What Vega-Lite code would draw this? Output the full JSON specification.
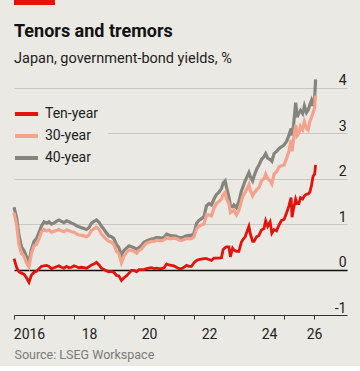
{
  "$schema": "https://vega.github.io/schema/vega-lite/v6.json",
  "background": "#ebe9e3",
  "padding": {"left": 4, "right": 13, "top": 0, "bottom": 5},
  "config": {
    "view": {"stroke": null},
    "font": "Roboto",
    "concat": {"spacing": 18}
  },
  "vconcat": [
    {
      "width": 41,
      "height": 5,
      "data": {"values": [{"bar": 1}]},
      "mark": {"type": "rect", "color": "#e3120b"},
      "encoding": {}
    },
    {
      "width": 333,
      "height": 241,
      "title": {
        "text": "Tenors and tremors",
        "subtitle": "Japan, government-bond yields, %",
        "anchor": "start",
        "frame": "group",
        "font": "Roboto",
        "fontSize": 18,
        "fontWeight": "bold",
        "color": "#121212",
        "subtitleFont": "Roboto",
        "subtitleFontSize": 14.5,
        "subtitleColor": "#1e1e1e",
        "subtitlePadding": 11,
        "offset": 7.5
      },
      "data": {
        "values": [
          {"date": "2016-01-01", "ten": 0.24, "thirty": 1.25, "forty": 1.37},
          {"date": "2016-02-01", "ten": 0.05, "thirty": 1.0, "forty": 1.15},
          {"date": "2016-03-01", "ten": -0.05, "thirty": 0.55, "forty": 0.75},
          {"date": "2016-04-01", "ten": -0.08, "thirty": 0.35, "forty": 0.5},
          {"date": "2016-05-01", "ten": -0.1, "thirty": 0.3, "forty": 0.42},
          {"date": "2016-06-01", "ten": -0.18, "thirty": 0.15, "forty": 0.28},
          {"date": "2016-07-01", "ten": -0.28, "thirty": 0.06, "forty": 0.18},
          {"date": "2016-08-01", "ten": -0.12, "thirty": 0.36, "forty": 0.45},
          {"date": "2016-09-01", "ten": -0.06, "thirty": 0.52, "forty": 0.62},
          {"date": "2016-10-01", "ten": -0.04, "thirty": 0.55, "forty": 0.68},
          {"date": "2016-11-01", "ten": 0.02, "thirty": 0.68, "forty": 0.82},
          {"date": "2016-12-01", "ten": 0.07, "thirty": 0.83, "forty": 0.96},
          {"date": "2017-01-01", "ten": 0.08, "thirty": 0.88, "forty": 1.05},
          {"date": "2017-02-01", "ten": 0.09, "thirty": 0.85, "forty": 1.02},
          {"date": "2017-03-01", "ten": 0.07, "thirty": 0.87, "forty": 1.05},
          {"date": "2017-04-01", "ten": 0.02, "thirty": 0.82, "forty": 1.0},
          {"date": "2017-05-01", "ten": 0.04, "thirty": 0.84, "forty": 1.02},
          {"date": "2017-06-01", "ten": 0.06, "thirty": 0.86, "forty": 1.06},
          {"date": "2017-07-01", "ten": 0.08, "thirty": 0.88, "forty": 1.09},
          {"date": "2017-08-01", "ten": 0.05, "thirty": 0.85, "forty": 1.06},
          {"date": "2017-09-01", "ten": 0.03, "thirty": 0.83, "forty": 1.03},
          {"date": "2017-10-01", "ten": 0.07, "thirty": 0.87, "forty": 1.07},
          {"date": "2017-11-01", "ten": 0.04, "thirty": 0.86, "forty": 1.05},
          {"date": "2017-12-01", "ten": 0.05, "thirty": 0.83, "forty": 1.02},
          {"date": "2018-01-01", "ten": 0.08, "thirty": 0.82, "forty": 1.0},
          {"date": "2018-02-01", "ten": 0.06, "thirty": 0.78, "forty": 0.96},
          {"date": "2018-03-01", "ten": 0.04, "thirty": 0.76, "forty": 0.94},
          {"date": "2018-04-01", "ten": 0.05, "thirty": 0.75, "forty": 0.92},
          {"date": "2018-05-01", "ten": 0.04, "thirty": 0.74, "forty": 0.9},
          {"date": "2018-06-01", "ten": 0.03, "thirty": 0.72, "forty": 0.88},
          {"date": "2018-07-01", "ten": 0.06, "thirty": 0.76, "forty": 0.92},
          {"date": "2018-08-01", "ten": 0.1, "thirty": 0.86, "forty": 1.02},
          {"date": "2018-09-01", "ten": 0.12, "thirty": 0.9, "forty": 1.06},
          {"date": "2018-10-01", "ten": 0.16, "thirty": 0.93, "forty": 1.09},
          {"date": "2018-11-01", "ten": 0.1, "thirty": 0.88, "forty": 1.04},
          {"date": "2018-12-01", "ten": 0.03, "thirty": 0.78, "forty": 0.95},
          {"date": "2019-01-01", "ten": 0.0, "thirty": 0.72, "forty": 0.88},
          {"date": "2019-02-01", "ten": -0.03, "thirty": 0.66, "forty": 0.8},
          {"date": "2019-03-01", "ten": -0.05, "thirty": 0.62, "forty": 0.74},
          {"date": "2019-04-01", "ten": -0.04, "thirty": 0.6, "forty": 0.72},
          {"date": "2019-05-01", "ten": -0.06, "thirty": 0.55, "forty": 0.68},
          {"date": "2019-06-01", "ten": -0.13, "thirty": 0.4, "forty": 0.55},
          {"date": "2019-07-01", "ten": -0.14, "thirty": 0.35, "forty": 0.48},
          {"date": "2019-08-01", "ten": -0.24, "thirty": 0.15, "forty": 0.32},
          {"date": "2019-09-01", "ten": -0.18, "thirty": 0.3, "forty": 0.42},
          {"date": "2019-10-01", "ten": -0.14, "thirty": 0.38, "forty": 0.47},
          {"date": "2019-11-01", "ten": -0.08, "thirty": 0.43, "forty": 0.52},
          {"date": "2019-12-01", "ten": -0.02, "thirty": 0.42, "forty": 0.5},
          {"date": "2020-01-01", "ten": -0.02, "thirty": 0.4, "forty": 0.48},
          {"date": "2020-02-01", "ten": -0.05, "thirty": 0.36, "forty": 0.45},
          {"date": "2020-03-01", "ten": 0.0, "thirty": 0.42, "forty": 0.48},
          {"date": "2020-04-01", "ten": 0.0, "thirty": 0.45, "forty": 0.53},
          {"date": "2020-05-01", "ten": 0.0, "thirty": 0.52, "forty": 0.6},
          {"date": "2020-06-01", "ten": 0.02, "thirty": 0.58, "forty": 0.63},
          {"date": "2020-07-01", "ten": 0.03, "thirty": 0.6, "forty": 0.65},
          {"date": "2020-08-01", "ten": 0.04, "thirty": 0.62, "forty": 0.67},
          {"date": "2020-09-01", "ten": 0.02, "thirty": 0.62, "forty": 0.68},
          {"date": "2020-10-01", "ten": 0.03, "thirty": 0.64, "forty": 0.7},
          {"date": "2020-11-01", "ten": 0.02, "thirty": 0.64, "forty": 0.7},
          {"date": "2020-12-01", "ten": 0.02, "thirty": 0.63, "forty": 0.69},
          {"date": "2021-01-01", "ten": 0.04, "thirty": 0.65, "forty": 0.71},
          {"date": "2021-02-01", "ten": 0.12, "thirty": 0.7, "forty": 0.78},
          {"date": "2021-03-01", "ten": 0.1, "thirty": 0.68, "forty": 0.76},
          {"date": "2021-04-01", "ten": 0.09, "thirty": 0.68, "forty": 0.74},
          {"date": "2021-05-01", "ten": 0.08, "thirty": 0.69, "forty": 0.74},
          {"date": "2021-06-01", "ten": 0.05, "thirty": 0.68, "forty": 0.73},
          {"date": "2021-07-01", "ten": 0.02, "thirty": 0.65, "forty": 0.7},
          {"date": "2021-08-01", "ten": 0.02, "thirty": 0.64, "forty": 0.7},
          {"date": "2021-09-01", "ten": 0.05, "thirty": 0.66, "forty": 0.72},
          {"date": "2021-10-01", "ten": 0.09, "thirty": 0.68, "forty": 0.74},
          {"date": "2021-11-01", "ten": 0.07, "thirty": 0.68, "forty": 0.75},
          {"date": "2021-12-01", "ten": 0.07, "thirty": 0.68, "forty": 0.75},
          {"date": "2022-01-01", "ten": 0.15, "thirty": 0.72, "forty": 0.8},
          {"date": "2022-02-01", "ten": 0.2, "thirty": 0.9, "forty": 1.02},
          {"date": "2022-03-01", "ten": 0.22, "thirty": 0.95, "forty": 1.08},
          {"date": "2022-04-01", "ten": 0.23, "thirty": 0.98, "forty": 1.12},
          {"date": "2022-05-01", "ten": 0.24, "thirty": 1.0, "forty": 1.16},
          {"date": "2022-06-01", "ten": 0.24, "thirty": 1.2, "forty": 1.4},
          {"date": "2022-07-01", "ten": 0.22, "thirty": 1.2, "forty": 1.45},
          {"date": "2022-08-01", "ten": 0.2, "thirty": 1.18, "forty": 1.42},
          {"date": "2022-09-01", "ten": 0.25, "thirty": 1.35, "forty": 1.55},
          {"date": "2022-10-01", "ten": 0.25, "thirty": 1.45, "forty": 1.65},
          {"date": "2022-11-01", "ten": 0.25, "thirty": 1.5, "forty": 1.7},
          {"date": "2022-12-01", "ten": 0.26, "thirty": 1.55, "forty": 1.78},
          {"date": "2022-12-21", "ten": 0.44, "thirty": 1.65, "forty": 1.9},
          {"date": "2023-01-15", "ten": 0.48, "thirty": 1.7, "forty": 1.95},
          {"date": "2023-02-01", "ten": 0.5, "thirty": 1.55, "forty": 1.8},
          {"date": "2023-03-01", "ten": 0.5, "thirty": 1.45, "forty": 1.6},
          {"date": "2023-03-20", "ten": 0.28, "thirty": 1.25, "forty": 1.4},
          {"date": "2023-04-15", "ten": 0.47, "thirty": 1.28, "forty": 1.38},
          {"date": "2023-05-01", "ten": 0.43, "thirty": 1.3, "forty": 1.42},
          {"date": "2023-06-01", "ten": 0.4, "thirty": 1.2, "forty": 1.36},
          {"date": "2023-07-01", "ten": 0.4, "thirty": 1.3, "forty": 1.5},
          {"date": "2023-07-31", "ten": 0.6, "thirty": 1.5, "forty": 1.72},
          {"date": "2023-08-15", "ten": 0.65, "thirty": 1.6, "forty": 1.8},
          {"date": "2023-09-15", "ten": 0.72, "thirty": 1.7, "forty": 1.95},
          {"date": "2023-10-31", "ten": 0.95, "thirty": 1.87, "forty": 2.13},
          {"date": "2023-11-15", "ten": 0.8, "thirty": 1.75, "forty": 2.05},
          {"date": "2023-12-15", "ten": 0.62, "thirty": 1.62, "forty": 1.95},
          {"date": "2024-01-01", "ten": 0.62, "thirty": 1.68, "forty": 2.05},
          {"date": "2024-02-01", "ten": 0.72, "thirty": 1.75, "forty": 2.2},
          {"date": "2024-03-01", "ten": 0.75, "thirty": 1.8, "forty": 2.3},
          {"date": "2024-04-01", "ten": 0.87, "thirty": 1.95, "forty": 2.42},
          {"date": "2024-05-01", "ten": 0.9, "thirty": 2.0, "forty": 2.48},
          {"date": "2024-05-22", "ten": 1.07, "thirty": 2.1, "forty": 2.55},
          {"date": "2024-06-15", "ten": 0.95, "thirty": 2.0, "forty": 2.45},
          {"date": "2024-07-15", "ten": 1.05, "thirty": 1.95, "forty": 2.42},
          {"date": "2024-08-05", "ten": 0.8, "thirty": 1.88, "forty": 2.38},
          {"date": "2024-09-01", "ten": 0.88, "thirty": 2.1, "forty": 2.55},
          {"date": "2024-10-01", "ten": 0.85, "thirty": 2.15, "forty": 2.6},
          {"date": "2024-11-01", "ten": 0.98, "thirty": 2.26, "forty": 2.66},
          {"date": "2024-12-01", "ten": 1.08, "thirty": 2.28, "forty": 2.7},
          {"date": "2025-01-01", "ten": 1.1, "thirty": 2.3, "forty": 2.74},
          {"date": "2025-02-01", "ten": 1.25, "thirty": 2.45, "forty": 2.82},
          {"date": "2025-03-01", "ten": 1.4, "thirty": 2.6, "forty": 2.95},
          {"date": "2025-03-27", "ten": 1.58, "thirty": 2.85, "forty": 3.1},
          {"date": "2025-04-08", "ten": 1.15, "thirty": 2.6, "forty": 2.95},
          {"date": "2025-04-25", "ten": 1.32, "thirty": 2.85, "forty": 3.15},
          {"date": "2025-05-22", "ten": 1.55, "thirty": 3.18, "forty": 3.67},
          {"date": "2025-06-10", "ten": 1.45, "thirty": 2.95, "forty": 3.35},
          {"date": "2025-07-01", "ten": 1.45, "thirty": 3.0, "forty": 3.45},
          {"date": "2025-07-20", "ten": 1.58, "thirty": 3.15, "forty": 3.5},
          {"date": "2025-08-15", "ten": 1.55, "thirty": 3.08, "forty": 3.43},
          {"date": "2025-09-05", "ten": 1.62, "thirty": 3.25, "forty": 3.6},
          {"date": "2025-10-01", "ten": 1.66, "thirty": 3.1, "forty": 3.45},
          {"date": "2025-10-20", "ten": 1.66, "thirty": 3.07, "forty": 3.5},
          {"date": "2025-11-10", "ten": 1.7, "thirty": 3.25, "forty": 3.62},
          {"date": "2025-12-01", "ten": 1.85, "thirty": 3.35, "forty": 3.72},
          {"date": "2025-12-20", "ten": 2.05, "thirty": 3.45, "forty": 3.6},
          {"date": "2026-01-08", "ten": 2.1, "thirty": 3.55, "forty": 3.78},
          {"date": "2026-01-20", "ten": 2.3, "thirty": 3.83, "forty": 4.18}
        ]
      },
      "encoding": {
        "x": {
          "field": "date",
          "type": "temporal",
          "scale": {
            "type": "utc",
            "domain": [
              {"year": 2016, "month": 1, "date": 1, "utc": true},
              {"year": 2027, "month": 2, "date": 6, "utc": true}
            ]
          },
          "axis": {
            "title": "Source: LSEG Workspace",
            "titleAnchor": "start",
            "titleAlign": "left",
            "titleFont": "Roboto",
            "titleFontWeight": "normal",
            "titleFontSize": 12.5,
            "titleColor": "#7a7a7a",
            "titlePadding": 7,
            "values": [
              {"year": 2016, "month": 1, "date": 1, "utc": true},
              {"year": 2017, "month": 1, "date": 1, "utc": true},
              {"year": 2018, "month": 1, "date": 1, "utc": true},
              {"year": 2019, "month": 1, "date": 1, "utc": true},
              {"year": 2020, "month": 1, "date": 1, "utc": true},
              {"year": 2021, "month": 1, "date": 1, "utc": true},
              {"year": 2022, "month": 1, "date": 1, "utc": true},
              {"year": 2023, "month": 1, "date": 1, "utc": true},
              {"year": 2024, "month": 1, "date": 1, "utc": true},
              {"year": 2025, "month": 1, "date": 1, "utc": true},
              {"year": 2026, "month": 1, "date": 1, "utc": true}
            ],
            "grid": false,
            "domainColor": "#333333",
            "domainWidth": 1,
            "tickColor": "#333333",
            "tickSize": 4,
            "tickWidth": 1,
            "labelExpr": "utcyear(datum.value) == 2016 ? '2016' : (utcyear(datum.value) % 2 == 0 ? utcFormat(datum.value, '%y') : '')",
            "labelOffset": {"condition": {"test": "utcyear(datum.value) == 2026", "value": 0}, "value": 15},
            "labelFont": "Roboto",
            "labelFontSize": 14,
            "labelColor": "#222222",
            "labelPadding": 8,
            "labelFlush": false,
            "labelOverlap": false
          }
        }
      },
      "layer": [
        {
          "mark": {"type": "line", "strokeWidth": 3.2},
          "encoding": {
            "y": {
              "field": "forty",
              "type": "quantitative",
              "scale": {"domain": [-1, 4.3], "nice": false, "zero": false},
              "axis": {
                "orient": "right",
                "title": null,
                "values": [-1, 0, 1, 2, 3, 4],
                "domain": false,
                "ticks": false,
                "tickSize": 0,
                "labelAlign": "right",
                "labelBaseline": "alphabetic",
                "labelPadding": -1,
                "labelOffset": -3,
                "labelFont": "Roboto",
                "labelFontSize": 14,
                "labelColor": "#222222",
                "labelExpr": "'' + datum.value",
                "grid": true,
                "gridColor": {"condition": {"test": "datum.value === 0", "value": "#111111"}, "value": "#c9c7c0"},
                "gridWidth": {"condition": {"test": "datum.value === 0", "value": 1.3}, "value": 1}
              }
            },
            "color": {
              "datum": "40-year",
              "scale": {"domain": ["Ten-year", "30-year", "40-year"], "range": ["#e3120b", "#f4a28c", "#85857d"]},
              "legend": {
                "orient": "none",
                "legendX": -10,
                "legendY": 91.5,
                "title": null,
                "symbolType": "stroke",
                "symbolSize": 529,
                "symbolStrokeWidth": 4,
                "labelFont": "Roboto",
                "labelFontSize": 14,
                "labelColor": "#222222",
                "labelOffset": 5,
                "rowPadding": 0,
                "padding": 9,
                "fillColor": "#ebe9e3",
                "labelExpr": "datum.label + '\u00a0\u00a0\u00a0'"
              }
            }
          }
        },
        {
          "mark": {"type": "line", "strokeWidth": 3.2},
          "encoding": {
            "y": {"field": "thirty", "type": "quantitative", "scale": {"domain": [-1, 4.3], "nice": false, "zero": false}},
            "color": {"datum": "30-year", "scale": {"domain": ["Ten-year", "30-year", "40-year"], "range": ["#e3120b", "#f4a28c", "#85857d"]}}
          }
        },
        {
          "mark": {"type": "line", "strokeWidth": 2.8},
          "encoding": {
            "y": {"field": "ten", "type": "quantitative", "scale": {"domain": [-1, 4.3], "nice": false, "zero": false}},
            "color": {"datum": "Ten-year", "scale": {"domain": ["Ten-year", "30-year", "40-year"], "range": ["#e3120b", "#f4a28c", "#85857d"]}}
          }
        }
      ]
    }
  ]
}
